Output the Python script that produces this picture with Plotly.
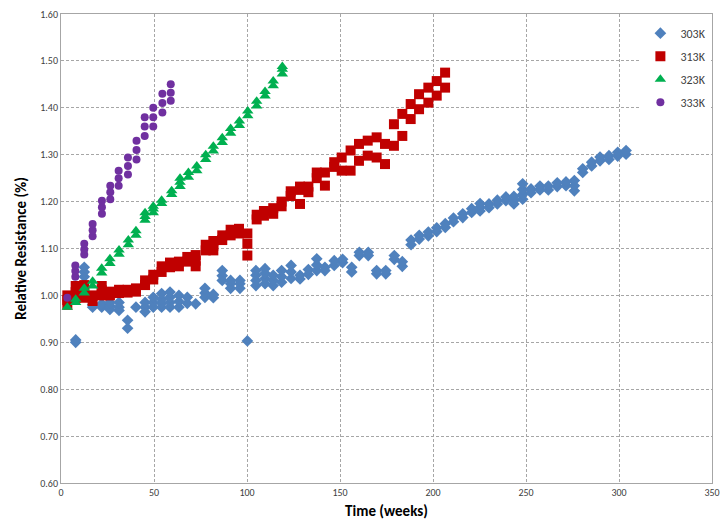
import plotly.graph_objects as go

# ---------------- data ----------------
t303 = [7.9, 12.5, 17, 21.9, 26.3, 31.2, 35.8, 40.3, 45.2, 49.6, 54.1, 58.6, 63.4, 67.9, 72.4,
        77.4, 81.9, 86.7, 91.2, 96.2, 100.2, 104.8, 109.7, 114.1, 118.6, 123.7, 128.5, 133,
        137.5, 141.9, 146.9, 151.4, 156.3, 160.4, 165.2, 169.7, 174.6, 179.2, 183.5, 188.2,
        192.6, 197.5, 202, 206.6, 211, 216, 220.8, 225.3, 230.1, 234.6, 239.2, 243.5, 248.2,
        252.7, 257.5, 262, 266.8, 271.5, 276, 280.5, 285.3, 289.8, 294.6, 299.3, 303.8]
r303 = [[0.90, 0.905], [1.04, 1.05, 1.06], [0.975, 0.98], [0.975, 0.982], [0.97, 0.978, 0.985],
        [0.968, 0.975, 0.985], [0.93, 0.947], [0.975], [0.965, 0.975, 0.985], [0.975, 0.985, 0.996],
        [0.975, 0.983, 0.992, 1.004], [0.975, 0.985, 0.996, 1.007], [0.975, 0.987, 1.0],
        [0.983, 0.996], [0.982], [0.996, 1.005, 1.015], [0.995, 1.002], [1.032, 1.042, 1.053],
        [1.015, 1.025, 1.032], [1.015, 1.025, 1.032], [0.903], [1.021, 1.032, 1.043, 1.053],
        [1.025, 1.036, 1.047, 1.057], [1.021, 1.032, 1.043], [1.028, 1.04, 1.053],
        [1.036, 1.05, 1.064], [1.035, 1.043], [1.045, 1.055], [1.053, 1.065, 1.078],
        [1.053, 1.06], [1.064, 1.074], [1.07, 1.077], [1.05, 1.06], [1.085, 1.092],
        [1.085, 1.092], [1.046, 1.053], [1.046, 1.053], [1.077, 1.085], [1.062, 1.072],
        [1.108, 1.118], [1.12, 1.128], [1.127, 1.135], [1.136, 1.144], [1.145, 1.153],
        [1.157, 1.165], [1.166, 1.174], [1.177, 1.185], [1.18, 1.188, 1.196], [1.187, 1.195],
        [1.195, 1.203], [1.202, 1.21], [1.195, 1.203, 1.211], [1.205, 1.215, 1.226, 1.238],
        [1.219, 1.227], [1.225, 1.233], [1.225, 1.233], [1.232, 1.24], [1.234, 1.242],
        [1.223, 1.234, 1.245], [1.262, 1.27], [1.276, 1.284], [1.287, 1.295], [1.29, 1.298],
        [1.297, 1.305], [1.301, 1.309]]

t313 = [3.4, 7.9, 12.5, 17, 21.9, 26.3, 31.2, 35.8, 40.3, 45.2, 49.6, 54.1, 58.6, 63.4, 67.9,
        72.4, 77.8, 81.9, 86.7, 91.2, 95.7, 100.2, 105.2, 109.1, 114.1, 118.6, 123.5, 128.5,
        133, 137.5, 141.9, 146.9, 150.9, 155.7, 160.2, 164.9, 169.7, 174.2, 179, 183.5, 188,
        192.5, 197.5, 202, 206.5]
r313 = [[0.98, 0.99, 1.0], [0.995, 1.007, 1.02], [0.995, 1.01, 1.022], [0.988, 1.0],
        [1.0, 1.011, 1.02], [1.0, 1.008], [1.005, 1.012], [1.006, 1.012], [1.008, 1.015],
        [1.022, 1.032], [1.034, 1.044], [1.05, 1.062], [1.06, 1.07], [1.062, 1.072],
        [1.072, 1.082], [1.062, 1.074, 1.086], [1.096, 1.108], [1.096, 1.106, 1.116],
        [1.118, 1.128], [1.128, 1.14], [1.132, 1.142], [1.085, 1.11, 1.132], [1.162, 1.172],
        [1.17, 1.18], [1.174, 1.186], [1.19, 1.2], [1.212, 1.222], [1.195, 1.225, 1.232],
        [1.22, 1.232], [1.25, 1.262], [1.234, 1.262], [1.274, 1.284], [1.266, 1.294],
        [1.266, 1.309], [1.287, 1.323], [1.298, 1.33], [1.294, 1.337], [1.28, 1.323],
        [1.319, 1.365], [1.34, 1.387], [1.376, 1.408], [1.397, 1.429], [1.411, 1.443],
        [1.426, 1.457], [1.443, 1.475]]

t323 = [3.4, 7.9, 12.5, 17, 21.9, 26.3, 31.2, 36.2, 40.3, 45.2, 49.6, 54.1, 59.5, 64, 68.5,
        73, 77.8, 81.9, 86.7, 91.2, 95.9, 100.4, 105.2, 109.7, 114.1, 119]
r323 = [[0.975], [0.985, 0.992], [1.005, 1.015], [1.02, 1.03], [1.048, 1.058], [1.068, 1.078],
        [1.088, 1.097], [1.108, 1.118], [1.128, 1.138], [1.16, 1.168, 1.176], [1.176, 1.184, 1.19],
        [1.196, 1.203], [1.215, 1.223], [1.232, 1.241, 1.25], [1.252, 1.262], [1.266, 1.276],
        [1.29, 1.3], [1.308, 1.318], [1.326, 1.336], [1.346, 1.356], [1.362, 1.372],
        [1.383, 1.393], [1.404, 1.414], [1.425, 1.435], [1.447, 1.457], [1.472, 1.482, 1.488]]

t333 = [3.4, 7.7, 12.5, 17, 22, 26.5, 31, 36, 40.6, 45, 49.6, 54.5, 59]
r333 = [[0.995], [1.04, 1.052, 1.064], [1.087, 1.098, 1.11], [1.126, 1.139, 1.152],
        [1.174, 1.188, 1.202], [1.205, 1.22, 1.234], [1.234, 1.25, 1.266], [1.258, 1.276, 1.294],
        [1.29, 1.31, 1.33], [1.34, 1.36, 1.38], [1.36, 1.38, 1.40], [1.39, 1.41, 1.43],
        [1.415, 1.432, 1.45]]

names = ["303K", "313K", "323K", "333K"]
x_ticks = [0, 50, 100, 150, 200, 250, 300, 350]
y_ticks = [0.60, 0.70, 0.80, 0.90, 1.00, 1.10, 1.20, 1.30, 1.40, 1.50, 1.60]


def flatten(times, groups):
    xs, ys = [], []
    for t, vals in zip(times, groups):
        for v in vals:
            xs.append(t)
            ys.append(v)
    return xs, ys


series = [(t303, r303), (t313, r313), (t323, r323), (t333, r333)]
styles = [("diamond", "#4F81BD", 9), ("square", "#C00000", 10),
          ("triangle-up", "#00B050", 10), ("circle", "#7030A0", 8)]

FONT = "Carlito, Calibri, Lato, sans-serif"

fig = go.Figure()
for (times, groups), name, (sym, col, size) in zip(series, names, styles):
    xs, ys = flatten(times, groups)
    fig.add_trace(go.Scatter(
        x=xs, y=ys, mode="markers", name=name, legendgroup=name,
        marker=dict(symbol=sym, color=col, size=size, line=dict(width=0)),
    ))

grid = dict(showgrid=True, gridcolor="#A6A6A6", gridwidth=1, griddash="3px,2px")
fig.update_layout(
    width=723, height=525,
    margin=dict(l=61, r=11, t=14, b=42),
    paper_bgcolor="white", plot_bgcolor="white",
    font=dict(family=FONT, color="#404040", size=10),
    showlegend=True,
    legend=dict(x=0.89, y=0.99, xanchor="left", yanchor="top",
                bgcolor="white", borderwidth=0,
                font=dict(family=FONT, size=12, color="#404040"),
                tracegroupgap=4, itemwidth=30),
    xaxis=dict(range=[0, 350], tickvals=x_ticks, ticktext=[str(v) for v in x_ticks],
               showline=True, linecolor="#A6A6A6", linewidth=1, mirror=True,
               ticks="", zeroline=False, automargin=False,
               tickfont=dict(size=10, color="#404040"),
               title=dict(text="<b>Time (weeks)</b>", standoff=7,
                          font=dict(family=FONT, size=15, color="#000000")),
               **grid),
    yaxis=dict(range=[0.60, 1.60], tickvals=y_ticks, ticktext=[f"{v:.2f}" for v in y_ticks],
               showline=True, linecolor="#A6A6A6", linewidth=1, mirror=True,
               ticks="", zeroline=False, automargin=False,
               tickfont=dict(size=10, color="#404040"),
               title=dict(text="<b>Relative Resistance (%)</b>", standoff=10,
                          font=dict(family=FONT, size=15, color="#000000")),
               **grid),
)

fig.write_html("out.html")
